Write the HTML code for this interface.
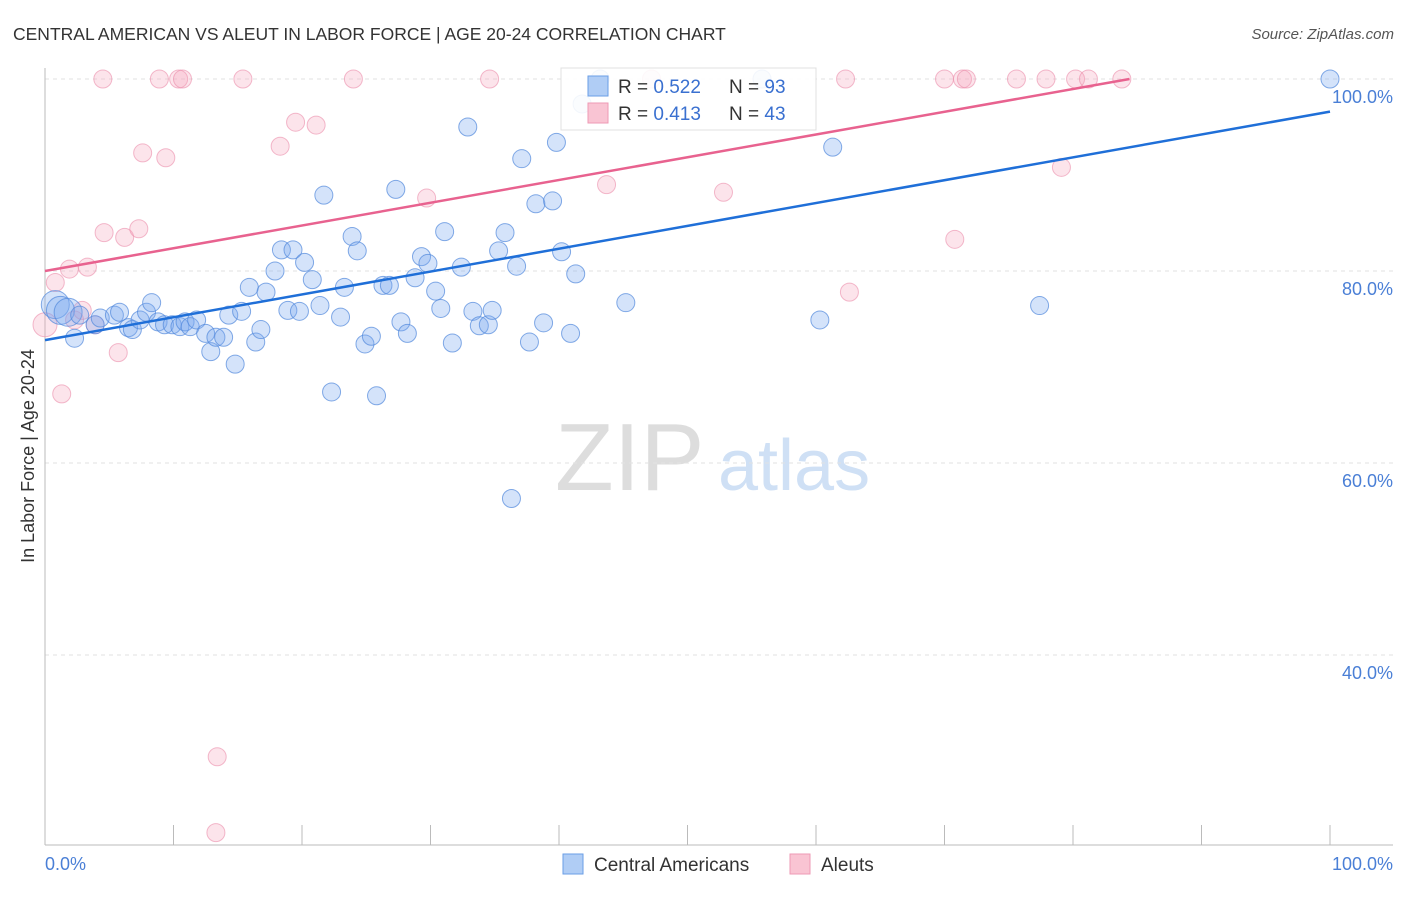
<!DOCTYPE html>
<html><head><meta charset="utf-8"><style>
body{margin:0;background:#fff;font-family:"Liberation Sans",sans-serif}
svg text{font-family:"Liberation Sans",sans-serif}
</style></head><body>
<svg id="c" width="1406" height="892">
<text x="13" y="40" font-size="17.5" fill="#333">CENTRAL AMERICAN VS ALEUT IN LABOR FORCE | AGE 20-24 CORRELATION CHART</text>
<text x="1394" y="39" font-size="15" fill="#555" font-style="italic" text-anchor="end">Source: ZipAtlas.com</text>
<text x="555" y="490" font-size="96" fill="#ddd" font-family="Liberation Serif">ZIP</text>
<text x="718" y="490" font-size="72" fill="#cfe0f5">atlas</text>
<g id="grid"></g><g id="pts"></g><g id="lines"></g>
<text transform="translate(34,456) rotate(-90)" font-size="18" fill="#333" text-anchor="middle">In Labor Force | Age 20-24</text>
<text x="45" y="870" font-size="18" fill="#4a7fd6">0.0%</text>
<text x="1393" y="870" font-size="18" fill="#4a7fd6" text-anchor="end">100.0%</text>
<g>
<rect x="561" y="68" width="255" height="62" fill="#fff" stroke="#ddd" opacity="0.9"/>
<rect x="588" y="76" width="20" height="20" fill="#b0cdf5" stroke="#6a9ee6"/>
<rect x="588" y="103" width="20" height="20" fill="#f9c4d3" stroke="#ee9ab4"/>
<text x="618" y="93" font-size="19" fill="#333">R = <tspan fill="#3a70d0">0.522</tspan></text>
<text x="729" y="93" font-size="19" fill="#333">N = <tspan fill="#3a70d0">93</tspan></text>
<text x="618" y="120" font-size="19" fill="#333">R = <tspan fill="#3a70d0">0.413</tspan></text>
<text x="729" y="120" font-size="19" fill="#333">N = <tspan fill="#3a70d0">43</tspan></text>
</g>
<g>
<rect x="563" y="854" width="20" height="20" fill="#b0cdf5" stroke="#6a9ee6"/>
<text x="594" y="871" font-size="19" fill="#333">Central Americans</text>
<rect x="790" y="854" width="20" height="20" fill="#f9c4d3" stroke="#ee9ab4"/>
<text x="821" y="871" font-size="19" fill="#333">Aleuts</text>
</g>
</svg>
<script>
const blueX=[0.8,1.2,1.8,2.3,2.7,3.9,4.3,5.4,5.8,6.5,6.8,7.4,7.9,8.3,8.8,9.3,9.9,10.5,10.9,11.3,11.8,12.5,12.9,13.3,13.9,14.3,14.8,15.3,15.9,16.4,16.8,17.2,17.9,18.4,18.9,19.3,19.8,20.2,20.8,21.4,21.7,22.3,23.0,23.3,23.9,24.3,24.9,25.4,25.8,26.3,26.8,27.3,27.7,28.2,28.8,29.3,29.8,30.4,30.8,31.1,31.7,32.4,32.9,33.3,33.8,34.5,34.8,35.3,35.8,36.3,36.7,37.1,37.7,38.2,38.8,39.5,39.8,40.2,40.9,41.3,41.8,43.2,45.2,55.8,60.3,61.3,77.4,100];
const blueY=[76.5,75.9,75.7,73.0,75.4,74.4,75.1,75.4,75.7,74.1,73.9,74.9,75.7,76.7,74.7,74.4,74.4,74.2,74.7,74.2,74.9,73.5,71.6,73.1,73.1,75.4,70.3,75.8,78.3,72.6,73.9,77.8,80.0,82.2,75.9,82.2,75.8,80.9,79.1,76.4,87.9,67.4,75.2,78.3,83.6,82.1,72.4,73.2,67.0,78.5,78.5,88.5,74.7,73.5,79.3,81.5,80.8,77.9,76.1,84.1,72.5,80.4,95.0,75.8,74.3,74.4,75.9,82.1,84.0,56.3,80.5,91.7,72.6,87.0,74.6,87.3,93.4,82.0,73.5,79.7,97.4,100,76.7,100,74.9,92.9,76.4,100];
const pinkX=[0,0.8,1.3,1.9,2.3,2.9,3.3,3.9,4.5,4.6,5.7,6.2,7.3,7.6,8.9,9.4,10.4,10.7,13.4,13.3,15.4,18.3,19.5,21.1,24.0,29.7,34.6,43.7,47.2,52.8,62.3,62.6,70.0,70.8,71.4,71.7,75.6,77.9,79.1,80.2,81.2,83.8];
const pinkY=[74.4,78.8,67.2,80.2,74.9,75.9,80.4,74.4,100,84.0,71.5,83.5,84.4,92.3,100,91.8,100,100,29.4,21.5,100,93.0,95.5,95.2,100,87.6,100,89.0,100,88.2,100,77.8,100,83.3,100,100,100,100,90.8,100,100,100];
const blueTrend=[72.8,96.6];
const pinkTrend=[80.0,100.0,84.4];
const yTicks=[100,80,60,40];
const NS='http://www.w3.org/2000/svg';
const sx=v=>45+v*12.85, sy=v=>79+(100-v)*9.6;
function mk(t,a,p){const e=document.createElementNS(NS,t);for(const k in a)e.setAttribute(k,a[k]);p.appendChild(e);return e;}
const g=document.getElementById('grid');
yTicks.forEach(t=>{
 const l=mk('line',{x1:45,x2:1393,y1:sy(t),y2:sy(t),stroke:'#e2e2e2','stroke-dasharray':'4,4'},g);
 
 
 const tx=mk('text',{x:1393,y:sy(t)+24,'font-size':18,fill:'#4a7fd6','text-anchor':'end'},g);
 tx.textContent=t.toFixed(1)+'%';
 
 
});
const ax=mk('line',{x1:45,x2:45,y1:68,y2:845,stroke:'#bbb'},g);


const bx=mk('line',{x1:45,x2:1393,y1:845,y2:845,stroke:'#bbb'},g);


for(let i=1;i<=10;i++){const t=mk('line',{x1:sx(i*10),x2:sx(i*10),y1:825,y2:845,stroke:'#bbb'},g);
 
 }
const P=document.getElementById('pts');
pinkX.forEach((x,i)=>{const c=mk('circle',{cx:sx(x),cy:sy(pinkY[i]),r:i==0?12:9,fill:'rgba(245,165,190,0.3)',stroke:'rgba(235,140,170,0.6)','stroke-width':1},P);
 
 });
blueX.forEach((x,i)=>{const c=mk('circle',{cx:sx(x),cy:sy(blueY[i]),r:i<3?14:9,fill:'rgba(120,168,238,0.32)',stroke:'rgba(80,135,220,0.7)','stroke-width':1},P);
 
 });
const L=document.getElementById('lines');
const bl=mk('line',{x1:sx(0),y1:sy(blueTrend[0]),x2:sx(100),y2:sy(blueTrend[1]),stroke:'#1f6fd8','stroke-width':2.5},L);


const pl=mk('line',{x1:sx(0),y1:sy(pinkTrend[0]),x2:sx(pinkTrend[2]),y2:sy(pinkTrend[1]),stroke:'#e8628f','stroke-width':2.5},L);


</script>
</body></html>
